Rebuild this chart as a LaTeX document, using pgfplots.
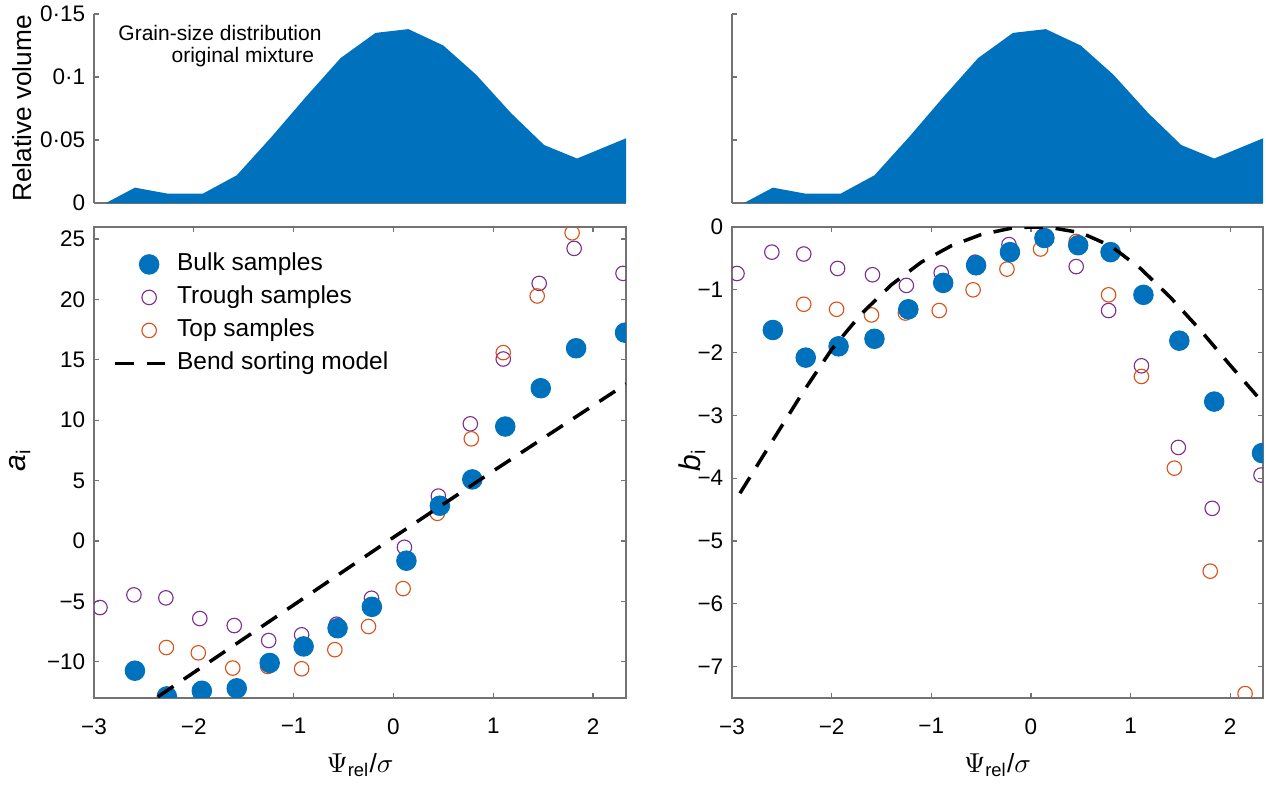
\documentclass[border=0pt]{standalone}
\usepackage{fontspec}
\setmainfont{Liberation Sans}
\usepackage{pgfplots}
\pgfplotsset{compat=1.18}

\definecolor{mblue}{RGB}{0,114,189}
\definecolor{mpurple}{RGB}{126,47,142}
\definecolor{morange}{RGB}{217,83,25}
\definecolor{axgray}{RGB}{115,115,115}

\pgfplotsset{
  mstyle/.style={
    scale only axis,
    xmin=-3, xmax=2.33,
    tick align=inside,
    major tick length=2pt,
    axis line style={draw=axgray, line width=0.5pt},
    every tick/.style={axgray, line width=0.5pt},
    tick label style={font=\fontsize{9}{10}\selectfont},
    xticklabel style={yshift=-4.6pt},
    clip marker paths=true,
  },
  bulk/.style={only marks, mark=*, mark size=3.9pt, mark options={draw=mblue, fill=mblue}},
  trough/.style={only marks, mark=o, mark size=2.9pt, mark options={draw=mpurple, line width=0.45pt}},
  topS/.style={only marks, mark=o, mark size=2.9pt, mark options={draw=morange, line width=0.45pt}},
  model/.style={black, line width=1.4pt, dash pattern=on 7.5pt off 5pt, mark=none},
}

\begin{document}
\begin{tikzpicture}
\useasboundingbox (0pt,0pt) rectangle (506.4pt,-313.6pt);

% grain-size distribution, left
\begin{axis}[mstyle, at={(37.6pt,-5.6pt)}, anchor=north west,
  width=212.8pt, height=75.6pt,
  ymin=0, ymax=0.15,
  axis x line*=bottom, axis y line*=left,
  xtick={-3,...,2}, xticklabels={},
  ytick={0,0.05,0.1,0.15}, yticklabels={0,0·05,0·1,0·15},
  ylabel={Relative volume},
  ylabel style={at={(axis description cs:-0.135,0.5)}, anchor=center, font=\fontsize{10.5}{12}\selectfont},
]
\addplot[fill=mblue, draw=none] coordinates {
  (-2.88,0) (-2.59,0.0122) (-2.26,0.0074) (-1.91,0.0074) (-1.57,0.022)
  (-1.22,0.0526) (-0.875,0.0844) (-0.53,0.115) (-0.18,0.135) (0.15,0.138)
  (0.50,0.125) (0.83,0.1017) (1.18,0.0712) (1.51,0.046) (1.84,0.0353) (2.35,0.052)
} \closedcycle;
\node[anchor=north east, align=right, inner sep=0pt, font=\fontsize{8.4}{8.6}\selectfont]
  at (rel axis cs:0.4286,0.942) {Grain-size distribution\\original mixture\hspace*{3pt}};
\end{axis}

% grain-size distribution, right
\begin{axis}[mstyle, at={(292.8pt,-5.6pt)}, anchor=north west,
  width=212.4pt, height=75.6pt,
  ymin=0, ymax=0.15,
  axis x line*=bottom, axis y line*=left,
  xtick={-3,...,2}, xticklabels={},
  ytick={0,0.05,0.1,0.15}, yticklabels={},
]
\addplot[fill=mblue, draw=none] coordinates {
  (-2.88,0) (-2.59,0.0122) (-2.26,0.0074) (-1.91,0.0074) (-1.57,0.022)
  (-1.22,0.0526) (-0.875,0.0844) (-0.53,0.115) (-0.18,0.135) (0.15,0.138)
  (0.50,0.125) (0.83,0.1017) (1.18,0.0712) (1.51,0.046) (1.84,0.0353) (2.35,0.052)
} \closedcycle;
\end{axis}

% a_i
\begin{axis}[mstyle, at={(37.6pt,-90.8pt)}, anchor=north west,
  width=212.8pt, height=188.4pt,
  ymin=-13, ymax=26,
  xtick={-3,...,2}, xticklabels={−3,−2,−1,0,1,2},
  ytick={-10,-5,...,25}, yticklabels={−10,−5,0,5,10,15,20,25},
  xlabel={$\Psi$\textsubscript{rel}/$\sigma$},
  xlabel style={at={(axis description cs:0.5,-0.117)}, anchor=north, inner sep=0pt, font=\fontsize{10.5}{12}\selectfont},
  ylabel={\textit{a}\textsubscript{i}},
  ylabel style={at={(axis description cs:-0.139,0.505)}, anchor=center, font=\fontsize{12}{14}\selectfont},
  legend style={draw=none, fill=none, at={(rel axis cs:0.036,0.946)}, anchor=north west,
    inner sep=0pt, font=\fontsize{9.8}{11}\selectfont, row sep=4pt, column sep=4pt,
    nodes={inner sep=0pt, text height=7.1pt, text depth=2.1pt}},
  legend cell align=left,
  legend image code/.code={\draw[mark repeat=2,mark phase=2,#1] plot coordinates {(0pt,0pt) (13.5pt,0pt) (20pt,0pt)};},
]
\addlegendimage{bulk}
\addlegendimage{trough}
\addlegendimage{topS}
\addlegendimage{model}
\addplot[trough, forget plot] coordinates {
  (-2.94,-5.51) (-2.60,-4.46) (-2.28,-4.71) (-1.94,-6.42) (-1.595,-7.0) (-1.25,-8.24)
  (-0.92,-7.77) (-0.57,-6.89) (-0.22,-4.74) (0.11,-0.52) (0.45,3.72) (0.77,9.70)
  (1.10,15.07) (1.46,21.33) (1.81,24.23) (2.30,22.16)
};
\addplot[topS, forget plot] coordinates {
  (-2.275,-8.82) (-1.955,-9.26) (-1.61,-10.52) (-1.26,-10.39) (-0.92,-10.58) (-0.587,-9.0)
  (-0.25,-7.08) (0.097,-3.94) (0.44,2.29) (0.78,8.46) (1.10,15.6) (1.44,20.29) (1.79,25.52)
};
\addplot[bulk, forget plot] coordinates {
  (-2.59,-10.74) (-2.27,-12.87) (-1.92,-12.4) (-1.57,-12.2) (-1.24,-10.1) (-0.90,-8.73)
  (-0.56,-7.22) (-0.216,-5.45) (0.13,-1.63) (0.465,2.92) (0.79,5.1) (1.12,9.48)
  (1.476,12.65) (1.83,15.96) (2.32,17.25)
};
\addplot[model, forget plot] coordinates {
  (-2.36,-12.9) (-1,-5.3) (0,0.3) (1,5.8) (2.33,13.0)
};
\legend{Bulk samples, Trough samples, Top samples, Bend sorting model}
\end{axis}

% b_i
\begin{axis}[mstyle, at={(292.8pt,-90.8pt)}, anchor=north west,
  width=212.4pt, height=188.4pt,
  ymin=-7.5, ymax=0,
  xtick={-3,...,2}, xticklabels={−3,−2,−1,0,1,2},
  ytick={-7,...,0}, yticklabels={−7,−6,−5,−4,−3,−2,−1,0},
  xlabel={$\Psi$\textsubscript{rel}/$\sigma$},
  xlabel style={at={(axis description cs:0.5,-0.117)}, anchor=north, inner sep=0pt, font=\fontsize{10.5}{12}\selectfont},
  ylabel={\textit{b}\textsubscript{i}},
  ylabel style={at={(axis description cs:-0.075,0.505)}, anchor=center, font=\fontsize{12}{14}\selectfont},
]
\addplot[trough] coordinates {
  (-2.95,-0.74) (-2.60,-0.40) (-2.28,-0.43) (-1.94,-0.66) (-1.59,-0.76) (-1.25,-0.93)
  (-0.90,-0.73) (-0.56,-0.56) (-0.22,-0.28) (0.12,-0.2) (0.455,-0.63) (0.78,-1.33)
  (1.11,-2.21) (1.48,-3.51) (1.82,-4.48) (2.31,-3.95)
};
\addplot[topS] coordinates {
  (-2.28,-1.23) (-1.95,-1.31) (-1.60,-1.40) (-1.26,-1.37) (-0.92,-1.33) (-0.58,-1.0)
  (-0.24,-0.67) (0.097,-0.35) (0.455,-0.23) (0.78,-1.08) (1.11,-2.38) (1.44,-3.84)
  (1.80,-5.48) (2.15,-7.43)
};
\addplot[bulk] coordinates {
  (-2.59,-1.64) (-2.26,-2.08) (-1.93,-1.90) (-1.57,-1.78) (-1.23,-1.31) (-0.88,-0.89)
  (-0.55,-0.61) (-0.21,-0.40) (0.136,-0.175) (0.475,-0.29) (0.80,-0.40) (1.13,-1.08)
  (1.49,-1.81) (1.84,-2.78) (2.32,-3.60)
};
\addplot[model] coordinates {
  (-2.92,-4.24) (-2.6,-3.42) (-2.3,-2.66) (-2.0,-1.95) (-1.7,-1.38) (-1.4,-0.92)
  (-1.1,-0.56) (-0.8,-0.30) (-0.5,-0.12) (-0.2,-0.02) (0,0) (0.2,-0.01) (0.5,-0.09)
  (0.8,-0.30) (1.1,-0.66) (1.4,-1.12) (1.7,-1.64) (2.0,-2.2) (2.33,-2.8)
};
\end{axis}
\end{tikzpicture}
\end{document}
